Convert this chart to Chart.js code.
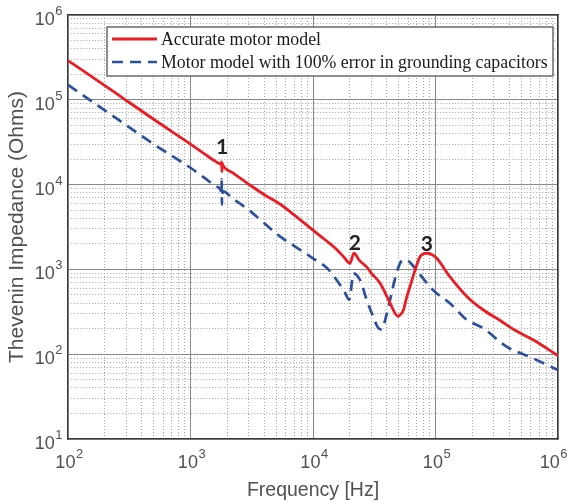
<!DOCTYPE html>
<html><head><meta charset="utf-8">
<script src="https://cdn.jsdelivr.net/npm/chart.js@4/dist/chart.umd.min.js"></script>
<style>html,body{margin:0;padding:0;background:#fff}#wrap{width:572px;height:504px}</style>
</head><body><div id="wrap"><canvas id="c" width="572" height="504"></canvas></div>
<script>
// ---- data ----
const seriesNames = ['Accurate motor model', 'Motor model with 100% error in grounding capacitors'];
const redFreq = [100,150,200,300,500,700,1000,1300,1600,1770,1795,1805,1815,1850,2200,2880,4000,5370,7000,10000,13000,15600,18000,20000,21600,24000,27400,30000,35200,42600,47000,49700,52000,54600,58000,62000,68000,74700,80000,85000,93000,102000,131000,180000,246000,337000,450000,630000,1000000];
const redZ    = [2.9e5,1.95e5,1.47e5,9.8e4,5.9e4,4.25e4,3.0e4,2.3e4,1.88e4,1.75e4,1.85e4,1.42e4,1.78e4,1.66e4,1.38e4,1.05e4,7.6e3,5.9e3,4.4e3,2.9e3,2.15e3,1.72e3,1.38e3,1.18e3,1.55e3,1.27e3,1.07e3,9.0e2,6.9e2,4.0e2,3.0e2,2.8e2,2.95e2,3.3e2,4.6e2,6.3e2,9.75e2,1.41e3,1.53e3,1.55e3,1.5e3,1.36e3,8.2e2,4.8e2,3.32e2,2.5e2,1.9e2,1.47e2,9.6e1];
const blueFreq = [100,150,200,300,500,700,1000,1300,1600,1740,1770,1795,1805,1815,1850,2200,3000,4000,5370,7000,10000,13000,15600,18000,19800,21400,24200,27400,30900,34000,36400,39000,42600,47000,51300,55000,58200,64000,70000,95500,131000,180000,246000,380000,630000,1000000];
const blueZ    = [1.5e5,1.0e5,7.5e4,5.0e4,3.0e4,2.2e4,1.58e4,1.2e4,9.6e3,8.9e3,8.4e3,1.15e4,5.8e3,7.4e3,8.3e3,6.9e3,5.0e3,3.5e3,2.45e3,1.9e3,1.35e3,1.04e3,7.5e2,5.5e2,4.4e2,9.0e2,7.5e2,4.4e2,2.8e2,2.05e2,1.95e2,2.6e2,4.4e2,8.0e2,1.18e3,1.3e3,1.29e3,1.15e3,9.8e2,5.7e2,4.0e2,2.55e2,2.02e2,1.23e2,8.9e1,6.5e1];
const xRange = [1e2, 1e6];
const yRange = [1e1, 1e6];
const markerLabels = ['1', '2', '3'];
const markerFreq = [1.81e3, 2.2e4, 8.5e4];
const markerZ = [2.77e4, 2.04e3, 2.0e3];
const xTitle = 'Frequency [Hz]';
const yTitle = 'Thevenin Impedance (Ohms)';

// ---- helpers ----
function isDecade(v){const e=Math.log10(v);return Math.abs(e-Math.round(e))<1e-9;}
function logTicks(scale){
  const t=[];const lo=Math.round(Math.log10(scale.min)),hi=Math.round(Math.log10(scale.max));
  for(let e=lo;e<=hi;e++){for(let m=1;m<=9;m++){const v=m*Math.pow(10,e);if(v>=scale.min*0.9999&&v<=scale.max*1.0001)t.push({value:v,major:m===1});}}
  scale.ticks=t;
}
const noPad = s => { s.paddingLeft=0; s.paddingRight=0; s.paddingTop=0; s.paddingBottom=0; };
const minorColor = c => (c.tick && isDecade(c.tick.value)) ? 'rgba(0,0,0,0)' : '#a4a4a4';
const majorColor = c => (c.tick && isDecade(c.tick.value)) ? '#8a8a8a' : 'rgba(0,0,0,0)';
const frameColor = '#3a3a3a';
const textColor = '#505050';
const baseFont = '"Liberation Sans", Arial, sans-serif';

const pts = (xs, ys) => xs.map((x,i)=>({x, y: ys[i]}));

// power-of-ten tick labels ("10" with raised exponent), placed by the scales
const powerLabels = {
  id:'powerLabels',
  afterDraw(chart){
    const ctx=chart.ctx, a=chart.chartArea, W=chart.width;
    ctx.save();
    ctx.fillStyle=textColor; ctx.textBaseline='alphabetic'; ctx.textAlign='left';
    const draw=(v,cx,baseY,mode)=>{
      const ex=String(Math.round(Math.log10(v)));
      ctx.font='18px '+baseFont; const w1=ctx.measureText('10').width;
      ctx.font='13px '+baseFont; const w2=ctx.measureText(ex).width;
      let x0 = mode==='center' ? cx-(w1+w2)/2 : cx-(w1+w2);
      if (x0+w1+w2 > W-5) x0 = W-5-(w1+w2);
      ctx.font='18px '+baseFont; ctx.fillText('10', x0, baseY);
      ctx.font='13px '+baseFont; ctx.fillText(ex, x0+w1+0.5, baseY-10);
    };
    chart.scales.x.ticks.forEach(t=>{ if(isDecade(t.value)) draw(t.value, chart.scales.x.getPixelForValue(t.value)+1, a.bottom+29, 'center'); });
    chart.scales.y.ticks.forEach(t=>{ if(isDecade(t.value)) draw(t.value, a.left-6, chart.scales.y.getPixelForValue(t.value)+10, 'right'); });
    ctx.restore();
  }
};
const boxLegend = {
  id:'boxLegend',
  afterDatasetsDraw(chart){
    const ctx=chart.ctx, a=chart.chartArea;
    const x0=a.left+39, y0=a.top+12, w=446, h=49;
    ctx.save();
    ctx.fillStyle='#fff';
    ctx.fillRect(x0,y0,w,h);
    ctx.strokeStyle='#6a6a6a'; ctx.lineWidth=1.5;
    ctx.strokeRect(x0,y0,w,h);
    ctx.font='17.8px "Liberation Serif", "Times New Roman", serif';
    ctx.textBaseline='middle';
    chart.data.datasets.forEach((ds,i)=>{
      const y=y0+12+i*23;
      ctx.strokeStyle=ds.borderColor; ctx.lineWidth=ds.borderWidth;
      ctx.setLineDash(ds.borderDash||[]);
      ctx.beginPath(); ctx.moveTo(x0+5,y); ctx.lineTo(x0+50,y); ctx.stroke();
      ctx.setLineDash([]);
      ctx.fillStyle='#1a1a1a';
      ctx.fillText(ds.label, x0+54, y+1);
    });
    ctx.restore();
  }
};
const markers = {
  id:'markers',
  afterDatasetsDraw(chart){
    const ctx=chart.ctx, sx=chart.scales.x, sy=chart.scales.y;
    ctx.save();
    ctx.font='bold 21px Lato, "Open Sans", sans-serif';
    ctx.fillStyle='#222'; ctx.textAlign='center'; ctx.textBaseline='middle';
    markerLabels.forEach((t,i)=>ctx.fillText(t, sx.getPixelForValue(markerFreq[i]), sy.getPixelForValue(markerZ[i])));
    ctx.restore();
  }
};

new Chart(document.getElementById('c'), {
  type:'line',
  data:{datasets:[
    {label:seriesNames[0], data:pts(redFreq,redZ), borderColor:'#ec1c24', borderWidth:2.8, pointRadius:0, cubicInterpolationMode:'monotone', fill:false},
    {label:seriesNames[1], data:pts(blueFreq,blueZ), borderColor:'#2d4fa0', borderWidth:2.7, borderDash:[11,7], pointRadius:0, cubicInterpolationMode:'monotone', fill:false}
  ]},
  options:{
    responsive:false, devicePixelRatio:1, animation:false,
    layout:{padding:0},
    plugins:{legend:{display:false}, tooltip:{enabled:false}},
    scales:{
      x:{type:'logarithmic', position:'bottom', min:xRange[0], max:xRange[1],
        afterBuildTicks:logTicks, afterFit:s=>{noPad(s); s.height=65;},
        grid:{color:minorColor, lineWidth:1, drawTicks:false},
        border:{display:true, color:frameColor, width:1.2, dash:[1,2]},
        ticks:{display:false, autoSkip:false},
        title:{display:true, text:xTitle, color:textColor, font:{family:baseFont, size:19.5}, padding:{top:2,bottom:2}}},
      x2:{type:'logarithmic', position:'top', min:xRange[0], max:xRange[1],
        afterBuildTicks:logTicks, afterFit:s=>{noPad(s); s.height=15;},
        grid:{color:majorColor, lineWidth:1, drawTicks:false},
        border:{display:true, color:frameColor, width:1.2},
        ticks:{display:false, autoSkip:false}},
      y:{type:'logarithmic', position:'left', min:yRange[0], max:yRange[1],
        afterBuildTicks:logTicks, afterFit:s=>{noPad(s); s.width=68;},
        grid:{color:minorColor, lineWidth:1, drawTicks:false},
        border:{display:true, color:frameColor, width:1.2, dash:[1,2]},
        ticks:{display:false, autoSkip:false},
        title:{display:true, text:yTitle, color:textColor, font:{family:baseFont, size:21}, padding:{top:5,bottom:5}}},
      y2:{type:'logarithmic', position:'right', min:yRange[0], max:yRange[1],
        afterBuildTicks:logTicks, afterFit:s=>{noPad(s); s.width=14;},
        grid:{color:majorColor, lineWidth:1, drawTicks:false},
        border:{display:true, color:frameColor, width:1.2},
        ticks:{display:false, autoSkip:false}}
    }
  },
  plugins:[powerLabels, boxLegend, markers]
});
</script></body></html>
